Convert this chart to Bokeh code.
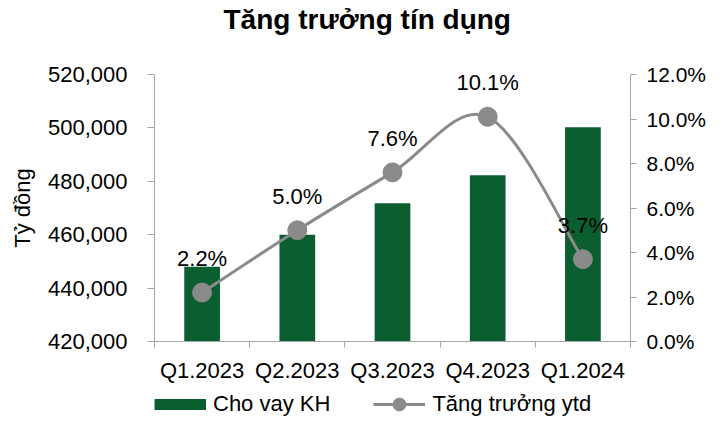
from bokeh.plotting import figure
from bokeh.layouts import column
from bokeh.models import (Range1d, LinearAxis, FixedTicker, NumeralTickFormatter,
                          PrintfTickFormatter, Legend, LegendItem, ColumnDataSource, Title)
from bokeh.core.properties import value
from bokeh.embed import file_html
from bokeh.resources import INLINE

# ---- data ----
categories = ["Q1.2023", "Q2.2023", "Q3.2023", "Q4.2023", "Q1.2024"]
loans = [448000, 460000, 471800, 482300, 500200]          # Cho vay KH (tỷ đồng)
growth = [2.2, 5.0, 7.6, 10.1, 3.7]                        # Tăng trưởng ytd (%)
left_ticks = [420000, 440000, 460000, 480000, 500000, 520000]
right_ticks = [0, 2, 4, 6, 8, 10, 12]
series_names = ["Cho vay KH", "Tăng trưởng ytd"]

FONT = "Liberation Sans"
BAR_COLOR = "#0b5e30"
LINE_COLOR = "#8a8a8a"
AXIS_COLOR = "#a6a6a6"

xi = list(range(len(categories)))

p = figure(width=709, height=388, output_backend="svg", toolbar_location=None,
           x_range=Range1d(-0.5, len(categories) - 0.5),
           y_range=Range1d(left_ticks[0], left_ticks[-1]),
           min_border_left=154, min_border_right=75, min_border_top=74, min_border_bottom=47)
p.extra_y_ranges = {"pct": Range1d(right_ticks[0], right_ticks[-1])}
p.outline_line_color = None
p.xgrid.visible = False
p.ygrid.visible = False

# title (spacer first so the title sits near the top edge)
p.add_layout(Title(text=" ", text_font_size="10px", standoff=27), "above")
p.add_layout(Title(text="Tăng trưởng tín dụng", text_font=FONT, text_font_size="28px",
                   text_font_style="bold", align="left", offset=69, standoff=0,
                   text_color="#000000"), "above")

# x axis
xa = p.xaxis[0]
xa.ticker = FixedTicker(ticks=xi, minor_ticks=[i - 0.5 for i in range(len(categories) + 1)])
xa.major_label_overrides = {i: c for i, c in zip(xi, categories)}
xa.major_tick_line_color = None
xa.minor_tick_line_color = AXIS_COLOR
xa.minor_tick_in = 0
xa.minor_tick_out = 6
xa.axis_line_color = AXIS_COLOR
xa.major_label_standoff = 10
xa.major_label_text_font = FONT
xa.major_label_text_font_size = "22px"
xa.major_label_text_color = "#000000"

# left axis
ya = p.yaxis[0]
ya.ticker = FixedTicker(ticks=left_ticks)
ya.formatter = NumeralTickFormatter(format="0,0")
ya.axis_line_color = AXIS_COLOR
ya.major_tick_line_color = AXIS_COLOR
ya.major_tick_in = 0
ya.major_tick_out = 7
ya.minor_tick_line_color = None
ya.major_label_standoff = 20
ya.major_label_text_font = FONT
ya.major_label_text_font_size = "22px"
ya.major_label_text_color = "#000000"
ya.axis_label = "Tỷ đồng"
ya.axis_label_text_font = FONT
ya.axis_label_text_font_size = "22px"
ya.axis_label_text_font_style = "normal"
ya.axis_label_text_color = "#000000"
ya.axis_label_standoff = 10

# right axis
ra = LinearAxis(y_range_name="pct", ticker=FixedTicker(ticks=right_ticks),
                formatter=PrintfTickFormatter(format="%.1f%%"))
ra.axis_line_color = AXIS_COLOR
ra.major_tick_line_color = AXIS_COLOR
ra.major_tick_in = 0
ra.major_tick_out = 6
ra.minor_tick_line_color = None
ra.major_label_standoff = 10
ra.major_label_text_font = FONT
ra.major_label_text_font_size = "21px"
ra.major_label_text_color = "#000000"
p.add_layout(ra, "right")

# bars
bars = p.vbar(x=xi, top=loans, bottom=left_ticks[0], width=0.375,
              fill_color=BAR_COLOR, line_color=None)

# smoothed line (Bezier segments through the data points)
n = len(xi)
seg = dict(x0=[], y0=[], x1=[], y1=[], cx0=[], cy0=[], cx1=[], cy1=[])
for i in range(n - 1):
    a = max(i - 1, 0)
    d = min(i + 2, n - 1)
    seg["x0"].append(xi[i]); seg["y0"].append(growth[i])
    seg["x1"].append(xi[i + 1]); seg["y1"].append(growth[i + 1])
    seg["cx0"].append(xi[i] + (xi[i + 1] - xi[a]) / 6)
    seg["cy0"].append(growth[i] + (growth[i + 1] - growth[a]) / 6)
    seg["cx1"].append(xi[i + 1] - (xi[d] - xi[i]) / 6)
    seg["cy1"].append(growth[i + 1] - (growth[d] - growth[i]) / 6)
curve = p.bezier(source=ColumnDataSource(seg), x0="x0", y0="y0", x1="x1", y1="y1",
                 cx0="cx0", cy0="cy0", cx1="cx1", cy1="cy1",
                 y_range_name="pct", line_color=LINE_COLOR, line_width=3)
dots = p.scatter(x=xi, y=growth, y_range_name="pct", size=19,
                 fill_color=LINE_COLOR, line_color=LINE_COLOR)

# data labels
p.text(x=xi, y=growth, text=["%.1f%%" % g for g in growth], y_range_name="pct",
       y_offset=-34, text_align="center", text_baseline="middle",
       text_font=value(FONT), text_font_size="22px", text_color="#000000")

# ---- legend strip below the chart ----
q = figure(width=709, height=32, output_backend="svg", toolbar_location=None,
           x_axis_type=None, y_axis_type=None, x_range=Range1d(0, 1), y_range=Range1d(0, 1),
           min_border=0, min_border_left=0, min_border_right=0,
           min_border_top=0, min_border_bottom=0)
q.outline_line_color = None
q.xgrid.visible = False
q.ygrid.visible = False
nan = [float("nan")]
bar_key = q.line(x=nan, y=nan, line_color=BAR_COLOR, line_width=11)
line_key = q.line(x=nan, y=nan, line_color=LINE_COLOR, line_width=3)
dot_key = q.scatter(x=nan, y=nan, fill_color=LINE_COLOR, line_color=LINE_COLOR)
legend = Legend(items=[LegendItem(label=series_names[0], renderers=[bar_key]),
                       LegendItem(label=series_names[1], renderers=[line_key, dot_key])],
                location=(0, 0), orientation="horizontal",
                glyph_width=52, glyph_height=32, label_standoff=7, spacing=43,
                padding=0, margin=0, border_line_color=None, background_fill_alpha=0,
                label_text_font=FONT, label_text_font_size="22px", label_text_color="#000000")
q.add_layout(legend, "center")

layout = column(p, q, spacing=0)
open("out.html", "w").write(file_html(layout, INLINE))
